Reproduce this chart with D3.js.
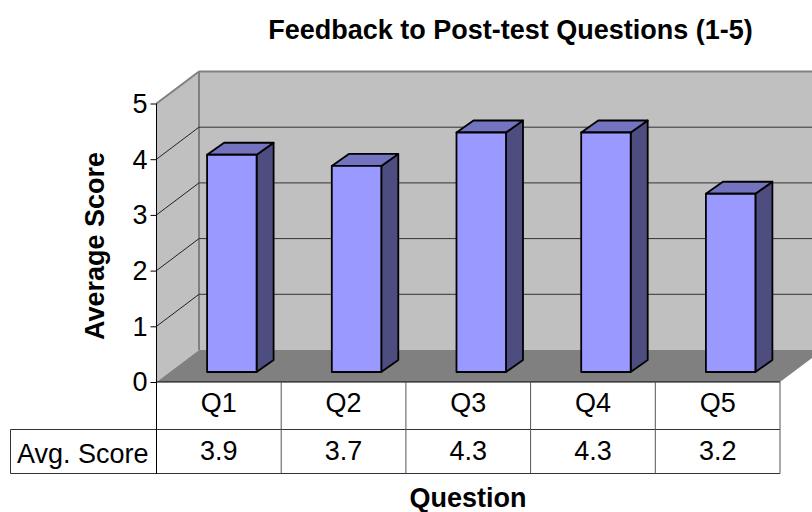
<html>
    <head>
        <style>
            body { margin: 0; background: white; }
            svg { display: block; }
            text { font-family: "Liberation Sans", Arial, sans-serif; fill: black; font-size: 27px; }
            .title, .axis-title { font-weight: bold; }
        </style>
        <script src="https://cdnjs.cloudflare.com/ajax/libs/d3/7.8.5/d3.min.js"></script>
    </head>
    <body>
        <script>
        var categories = ["Q1", "Q2", "Q3", "Q4", "Q5"];
        var scores = [3.9, 3.7, 4.3, 4.3, 3.2];
        var scoreLabels = ["3.9", "3.7", "4.3", "4.3", "3.2"];
        var yTicks = [0, 1, 2, 3, 4, 5];

        var width = 812;
        var height = 512;

        // front plane of the 3d box, back plane is shifted by depth
        var plotLeft = 156.5, plotRight = 780, plotBottom = 382, plotTop = 103.5;
        var depthX = 42.5, depthY = 32;
        var barWidth = 49.5, barDepthX = 17, barDepthY = 12;
        var barShiftX = 13, barShiftY = 10;

        var rowBottom1 = 429.5, rowBottom2 = 473.5, tableLeft = 10.5;

        var svg = d3.select("body")
                    .append("svg")
                    .attr("width", width)
                    .attr("height", height);

        var x = d3.scaleBand().domain(categories).range([plotLeft, plotRight]);
        var y = d3.scaleLinear().domain([0, 5]).range([plotBottom, plotTop]);

        function poly(points, fill, stroke, strokeWidth) {
            svg.append("polygon")
                .attr("points", points.map(p => p.join(",")).join(" "))
                .style("fill", fill)
                .style("stroke", stroke || "none")
                .style("stroke-width", strokeWidth || 0)
                .style("stroke-linejoin", "round");
        }

        function line(x1, y1, x2, y2, color, w) {
            svg.append("line")
                .attr("x1", x1).attr("y1", y1)
                .attr("x2", x2).attr("y2", y2)
                .style("stroke", color)
                .style("stroke-width", w || 1);
        }

        addWalls();
        addGrid();
        addBars();
        addAxis();
        addTable();
        addTitles();

        function addWalls() {
            // back wall, left wall, floor
            poly([[plotLeft + depthX, plotTop - depthY], [plotRight + depthX, plotTop - depthY],
                  [plotRight + depthX, plotBottom - depthY], [plotLeft + depthX, plotBottom - depthY]], "#c0c0c0");
            poly([[plotLeft, plotTop], [plotLeft + depthX, plotTop - depthY],
                  [plotLeft + depthX, plotBottom - depthY], [plotLeft, plotBottom]], "#c0c0c0");
            poly([[plotLeft, plotBottom], [plotLeft + depthX, plotBottom - depthY],
                  [plotRight + depthX, plotBottom - depthY], [plotRight, plotBottom]], "#808080");

            line(plotLeft + depthX, plotTop - depthY, plotRight + depthX, plotTop - depthY, "#808080", 2);
            line(plotLeft + depthX, plotTop - depthY, plotLeft + depthX, plotBottom - depthY, "#808080", 2);
            line(plotLeft, plotTop, plotLeft + depthX, plotTop - depthY, "#808080", 2);
        }

        function addGrid() {
            yTicks.slice(1, -1).forEach(function (t) {
                line(plotLeft, y(t), plotLeft + depthX, y(t) - depthY, "#222", 1);
                line(plotLeft + depthX, y(t) - depthY, plotRight + depthX, y(t) - depthY, "#333", 1);
            });
        }

        function addBars() {
            categories.forEach(function (c, i) {
                var x0 = x(c) + x.bandwidth() / 2 + barShiftX - barWidth / 2;
                var x1 = x0 + barWidth;
                var yBase = y(0) - barShiftY;
                var yTop = yBase - (y(0) - y(scores[i]));

                // side, top, front
                poly([[x1, yTop], [x1 + barDepthX, yTop - barDepthY],
                      [x1 + barDepthX, yBase - barDepthY], [x1, yBase]], "#4d4d80", "black", 1.8);
                poly([[x0, yTop], [x0 + barDepthX, yTop - barDepthY],
                      [x1 + barDepthX, yTop - barDepthY], [x1, yTop]], "#7373bf", "black", 1.8);
                poly([[x0, yTop], [x1, yTop], [x1, yBase], [x0, yBase]], "#9999ff", "black", 1.8);
            });
        }

        function addAxis() {
            var axis = svg.append("g")
                .attr("transform", "translate(" + plotLeft + ",0)")
                .call(d3.axisLeft(y).tickValues(yTicks).tickFormat(d3.format("d")).tickSize(6).tickPadding(3));
            axis.selectAll("path, line").style("stroke", "black").style("stroke-width", 1);
            axis.select("path").attr("d", "M0," + plotTop + "V" + plotBottom);
            axis.selectAll("text")
                .attr("font-family", null)
                .style("font-size", "27px")
                .style("fill", "black")
                .attr("dy", "0.33em");
        }

        function addTable() {
            line(plotLeft, plotBottom, plotRight, plotBottom, "black", 1);
            line(tableLeft, rowBottom1, plotRight, rowBottom1, "#333", 1);
            line(tableLeft, rowBottom2, plotRight, rowBottom2, "#333", 1);
            line(tableLeft, rowBottom1, tableLeft, rowBottom2, "#333", 1);
            line(plotLeft, plotBottom, plotLeft, rowBottom2, "black", 1);
            categories.forEach(function (c) {
                line(x(c) + x.bandwidth(), plotBottom, x(c) + x.bandwidth(), rowBottom2, "#555", 1);
            });

            svg.append("g")
                .selectAll("text.q")
                .data(categories)
                .enter()
                .append("text")
                .attr("class", "q")
                .attr("x", c => x(c) + x.bandwidth() / 2)
                .attr("y", 412)
                .attr("text-anchor", "middle")
                .text(c => c);

            svg.append("g")
                .selectAll("text.v")
                .data(scoreLabels)
                .enter()
                .append("text")
                .attr("class", "v")
                .attr("x", (d, i) => x(categories[i]) + x.bandwidth() / 2)
                .attr("y", 460)
                .attr("text-anchor", "middle")
                .text(d => d);

            svg.append("text")
                .attr("x", 17)
                .attr("y", 463)
                .text("Avg. Score");
        }

        function addTitles() {
            svg.append("text")
                .attr("class", "title")
                .attr("x", 510.5)
                .attr("y", 39)
                .attr("text-anchor", "middle")
                .text("Feedback to Post-test Questions (1-5)");

            svg.append("text")
                .attr("class", "axis-title")
                .attr("x", 468)
                .attr("y", 507)
                .attr("text-anchor", "middle")
                .text("Question");

            svg.append("text")
                .attr("class", "axis-title")
                .attr("transform", "translate(104,246) rotate(-90)")
                .attr("text-anchor", "middle")
                .text("Average Score");
        }
        </script>
    </body>
</html>
